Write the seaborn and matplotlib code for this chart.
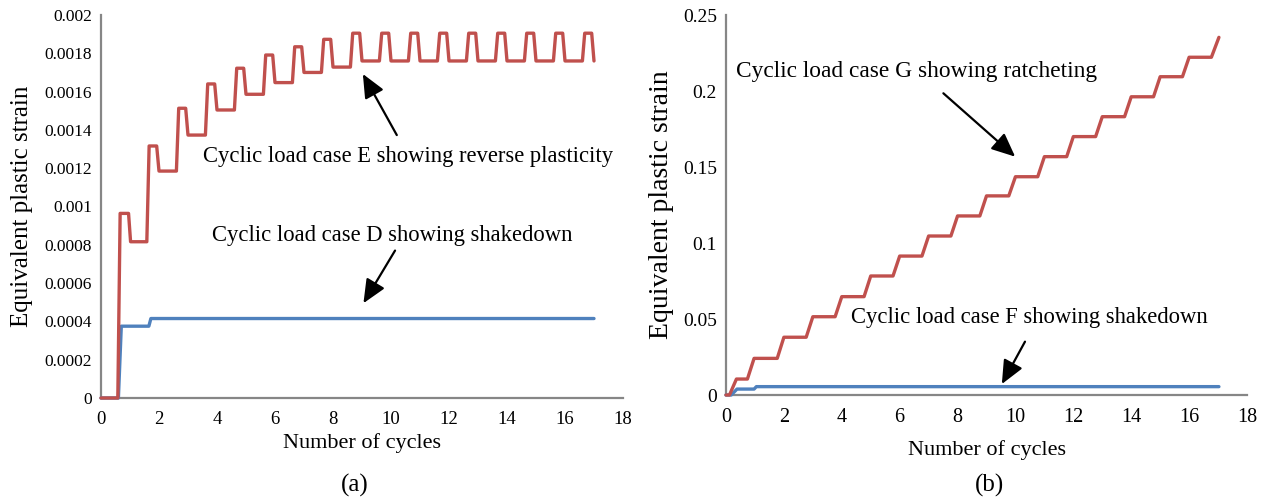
import matplotlib
matplotlib.use("Agg")
import matplotlib.pyplot as plt
import seaborn as sns
import pandas as pd

# ---- Case D (shakedown) and case E (reverse plasticity) ----
cycles_d = [0, 0.60, 0.70, 1.65, 1.72, 17.0]
strain_d = [0, 0, 0.000375, 0.000375, 0.000415, 0.000415]

cycles_e = [0, 0.58, 0.66, 0.95, 1.02, 1.58,
            1.66, 1.92, 2.0, 2.60, 2.68, 2.92, 3.0, 3.60,
            3.68, 3.92, 4.0, 4.60, 4.68, 4.92, 5.0, 5.60,
            5.68, 5.92, 6.0, 6.60, 6.68, 6.92, 7.0, 7.60,
            7.68, 7.92, 8.0, 8.60, 8.68, 8.92, 9.0, 9.60,
            9.68, 9.92, 10.0, 10.60, 10.68, 10.92, 11.0, 11.60,
            11.68, 11.92, 12.0, 12.60, 12.68, 12.92, 13.0, 13.60,
            13.68, 13.92, 14.0, 14.60, 14.68, 14.92, 15.0, 15.60,
            15.68, 15.92, 16.0, 16.60, 16.68, 16.92, 17.0]
strain_e = [0, 0, 0.000964, 0.000964, 0.000816, 0.000816,
            0.001316, 0.001316, 0.001185, 0.001185, 0.001513, 0.001513, 0.001373, 0.001373,
            0.001640, 0.001640, 0.001504, 0.001504, 0.001722, 0.001722, 0.001586, 0.001586,
            0.001791, 0.001791, 0.001647, 0.001647, 0.001834, 0.001834, 0.001700, 0.001700,
            0.001873, 0.001873, 0.001728, 0.001728, 0.001905, 0.001905, 0.001760, 0.001760,
            0.001905, 0.001905, 0.001760, 0.001760, 0.001905, 0.001905, 0.001760, 0.001760,
            0.001905, 0.001905, 0.001760, 0.001760, 0.001905, 0.001905, 0.001760, 0.001760,
            0.001905, 0.001905, 0.001760, 0.001760, 0.001905, 0.001905, 0.001760, 0.001760,
            0.001905, 0.001905, 0.001760, 0.001760, 0.001905, 0.001905, 0.001760]

# ---- Case F (shakedown) and case G (ratcheting) ----
cycles_f = [0, 0.18, 0.38, 0.97, 1.05, 17.03]
strain_f = [0, 0, 0.0039, 0.0039, 0.0055, 0.0055]

cycles_g = [0, 0.12, 0.36, 0.74, 0.97, 1.77,
            2.0, 2.77, 3.0, 3.77, 4.0, 4.77, 5.0, 5.77,
            6.0, 6.77, 7.0, 7.77, 8.0, 8.77, 9.0, 9.77,
            10.0, 10.77, 11.0, 11.77, 12.0, 12.77, 13.0, 13.77,
            14.0, 14.77, 15.0, 15.77, 16.0, 16.77, 17.03]
strain_g = [0, 0, 0.0105, 0.0105, 0.0241, 0.0241,
            0.0380, 0.0380, 0.0515, 0.0515, 0.0647, 0.0647, 0.0783, 0.0783,
            0.0914, 0.0914, 0.1046, 0.1046, 0.1178, 0.1178, 0.1310, 0.1310,
            0.1436, 0.1436, 0.1568, 0.1568, 0.1700, 0.1700, 0.1831, 0.1831,
            0.1962, 0.1962, 0.2094, 0.2094, 0.2222, 0.2222, 0.2353]

x_ticks = [0, 2, 4, 6, 8, 10, 12, 14, 16, 18]
y_ticks_a = [0, 0.0002, 0.0004, 0.0006, 0.0008, 0.001, 0.0012, 0.0014, 0.0016, 0.0018, 0.002]
y_ticklabels_a = ["0", "0.0002", "0.0004", "0.0006", "0.0008", "0.001",
                  "0.0012", "0.0014", "0.0016", "0.0018", "0.002"]
y_ticks_b = [0, 0.05, 0.1, 0.15, 0.2, 0.25]
y_ticklabels_b = ["0", "0.05", "0.1", "0.15", "0.2", "0.25"]

BLUE = "#4F81BD"
RED = "#C0504D"
GREY = "#868686"

sns.set_theme(style="white")
plt.rcParams["font.family"] = ["Liberation Serif", "DejaVu Serif"]
plt.rcParams["text.color"] = "black"
plt.rcParams["axes.labelcolor"] = "black"
plt.rcParams["xtick.color"] = "black"
plt.rcParams["ytick.color"] = "black"

fig = plt.figure(figsize=(12.69, 5.0), dpi=100)
ax_a = fig.add_axes([101 / 1269, 1 - 398 / 500, 522 / 1269, 383 / 500])
ax_b = fig.add_axes([726 / 1269, 1 - 395 / 500, 521 / 1269, 380 / 500])

df_d = pd.DataFrame({"cycles": cycles_d, "strain": strain_d})
df_e = pd.DataFrame({"cycles": cycles_e, "strain": strain_e})
df_f = pd.DataFrame({"cycles": cycles_f, "strain": strain_f})
df_g = pd.DataFrame({"cycles": cycles_g, "strain": strain_g})

line_kw = dict(lw=2.4, sort=False, estimator=None, clip_on=False, zorder=3,
               solid_joinstyle="round", solid_capstyle="round")
sns.lineplot(data=df_d, x="cycles", y="strain", ax=ax_a, color=BLUE, **line_kw)
sns.lineplot(data=df_e, x="cycles", y="strain", ax=ax_a, color=RED, **line_kw)
sns.lineplot(data=df_f, x="cycles", y="strain", ax=ax_b, color=BLUE, **line_kw)
sns.lineplot(data=df_g, x="cycles", y="strain", ax=ax_b, color=RED, **line_kw)


def style_axes(ax, yticks, ylabels, ylim, ytick_fs, xtick_fs):
    ax.set_xlim(0, 18)
    ax.set_ylim(*ylim)
    ax.set_xticks(x_ticks)
    ax.set_xticklabels([str(t) for t in x_ticks], fontsize=xtick_fs)
    ax.set_yticks(yticks)
    ax.set_yticklabels(ylabels, fontsize=ytick_fs)
    for side in ("top", "right"):
        ax.spines[side].set_visible(False)
    for side in ("left", "bottom"):
        ax.spines[side].set_color(GREY)
        ax.spines[side].set_linewidth(1.6)
        ax.spines[side].set_zorder(1)
    ax.tick_params(axis="both", which="major", direction="out", length=4.5,
                   width=1.2, color=GREY, labelcolor="black")
    ax.tick_params(axis="x", pad=5)
    ax.tick_params(axis="y", pad=2)
    ax.grid(False)
    ax.set_facecolor("white")


style_axes(ax_a, y_ticks_a, y_ticklabels_a, (0, 0.002), 12.5, 13.5)
style_axes(ax_b, y_ticks_b, y_ticklabels_b, (0, 0.25), 14, 14.5)

ax_a.set_xlabel("Number of cycles", fontsize=16)
ax_a.set_ylabel("Equivalent plastic strain", fontsize=18)
ax_a.xaxis.set_label_coords(0.5, -0.118)
ax_a.yaxis.set_label_coords(-0.151, 0.5)
ax_a.xaxis.label.set_va("center")
ax_a.yaxis.label.set_va("center")

ax_b.set_xlabel("Number of cycles", fontsize=16)
ax_b.set_ylabel("Equivalent plastic strain", fontsize=20)
ax_b.xaxis.set_label_coords(0.5, -0.145)
ax_b.yaxis.set_label_coords(-0.123, 0.5)
ax_b.xaxis.label.set_va("center")
ax_b.yaxis.label.set_va("center")

arrow = dict(arrowstyle="-|>,head_length=0.9,head_width=0.4", color="black",
             lw=1.6, mutation_scale=16, shrinkA=0, shrinkB=0)
ann_fs = 16.3

ax_a.text(10.6, 0.001262, "Cyclic load case E showing reverse plasticity",
          fontsize=ann_fs, ha="center", va="center", color="black")
ax_a.annotate("", xy=(9.03, 0.001692), xytext=(10.2, 0.001373), arrowprops=arrow)
ax_a.text(10.04, 0.000846, "Cyclic load case D showing shakedown",
          fontsize=ann_fs, ha="center", va="center", color="black")
ax_a.annotate("", xy=(9.05, 0.000495), xytext=(10.14, 0.00077), arrowprops=arrow)

ax_b.text(6.59, 0.2125, "Cyclic load case G showing ratcheting",
          fontsize=16.8, ha="center", va="center", color="black")
ax_b.annotate("", xy=(9.99, 0.1568), xytext=(7.51, 0.1985), arrowprops=arrow)
ax_b.text(10.49, 0.0507, "Cyclic load case F showing shakedown",
          fontsize=ann_fs, ha="center", va="center", color="black")
ax_b.annotate("", xy=(9.53, 0.0072), xytext=(10.33, 0.0351), arrowprops=arrow)

fig.text(355 / 1269, 1 - 485 / 500, "(a)", fontsize=18, ha="center", va="center",
         color="black")
fig.text(990 / 1269, 1 - 485 / 500, "(b)", fontsize=18, ha="center", va="center",
         color="black")

fig.savefig("out.png", dpi=100, facecolor="white")
